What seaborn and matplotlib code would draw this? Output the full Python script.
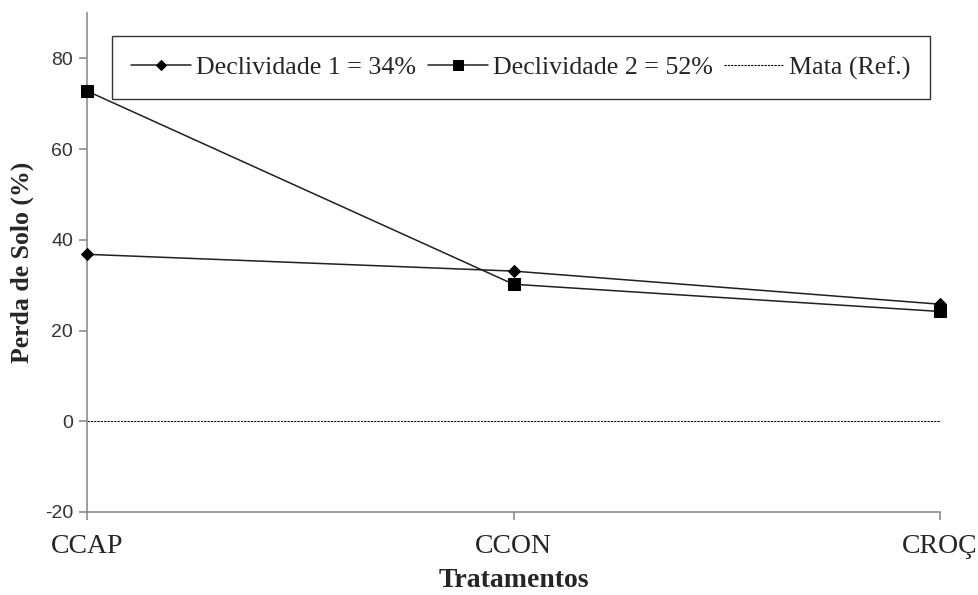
import pandas as pd
import matplotlib.pyplot as plt
import seaborn as sns

sns.set_theme(style="white")
plt.rcParams['font.family'] = ['Liberation Serif', 'DejaVu Serif']

tratamentos = ["CCAP", "CCON", "CROÇ"]
decl1 = [36.8, 33.1, 25.8]
decl2 = [72.8, 30.2, 24.2]
mata = [0.0, 0.0, 0.0]

series = {
    "Declividade 1 = 34%": decl1,
    "Declividade 2 = 52%": decl2,
    "Mata (Ref.)": mata,
}
df = pd.DataFrame([
    {"Tratamento": t, "Perda": v, "Serie": name}
    for name, vals in series.items() for t, v in zip(tratamentos, vals)
])

fig = plt.figure(figsize=(9.79, 5.95), dpi=100)
ax = fig.add_axes([0.0889, 0.1395, 0.8713, 0.8387])

sns.lineplot(data=df[df.Serie == "Declividade 1 = 34%"], x="Tratamento", y="Perda",
             color="#202020", lw=1.1, marker="D", markersize=6.5, mec="black", mfc="black",
             label="Declividade 1 = 34%", ax=ax, clip_on=False, zorder=5)
sns.lineplot(data=df[df.Serie == "Declividade 2 = 52%"], x="Tratamento", y="Perda",
             color="#202020", lw=1.1, marker="s", markersize=8, mec="black", mfc="black",
             label="Declividade 2 = 52%", ax=ax, clip_on=False, zorder=5)
sns.lineplot(data=df[df.Serie == "Mata (Ref.)"], x="Tratamento", y="Perda",
             color="black", lw=0.8, linestyle=(0, (2, 1)),
             label="Mata (Ref.)", ax=ax)

ax.set_xlim(0, 2)
ax.set_ylim(-20, 90)
ax.set_yticks([-20, 0, 20, 40, 60, 80])
ax.set_yticklabels(["-20", "0", "20", "40", "60", "80"])
for s in ["top", "right"]:
    ax.spines[s].set_visible(False)
for s in ["left", "bottom"]:
    ax.spines[s].set_color("#8c8c8c")
    ax.spines[s].set_linewidth(1.2)
ax.tick_params(axis="both", which="both", direction="out", length=6, width=1.2,
               color="#8c8c8c", left=True, bottom=True)
ax.tick_params(axis="x", labelsize=20, pad=10)
ax.tick_params(axis="y", labelsize=14, pad=4)
for lab in ax.get_yticklabels():
    lab.set_family(["Liberation Sans", "DejaVu Sans"])
    lab.set_color("#333333")

ax.set_xlabel("Tratamentos", fontsize=20, fontweight="bold", labelpad=6)
ax.set_ylabel("Perda de Solo (%)", fontsize=18.5, fontweight="bold", labelpad=8)

leg = ax.legend(loc="upper left", bbox_to_anchor=(0.029, 0.953), ncol=3,
                fontsize=18.7, frameon=True, fancybox=False, edgecolor="black",
                handlelength=2.3, handletextpad=0.2, columnspacing=0.45,
                borderpad=0.75, borderaxespad=0, markerscale=0.85)
leg.get_frame().set_linewidth(1.0)

fig.savefig("out.png", dpi=100)
